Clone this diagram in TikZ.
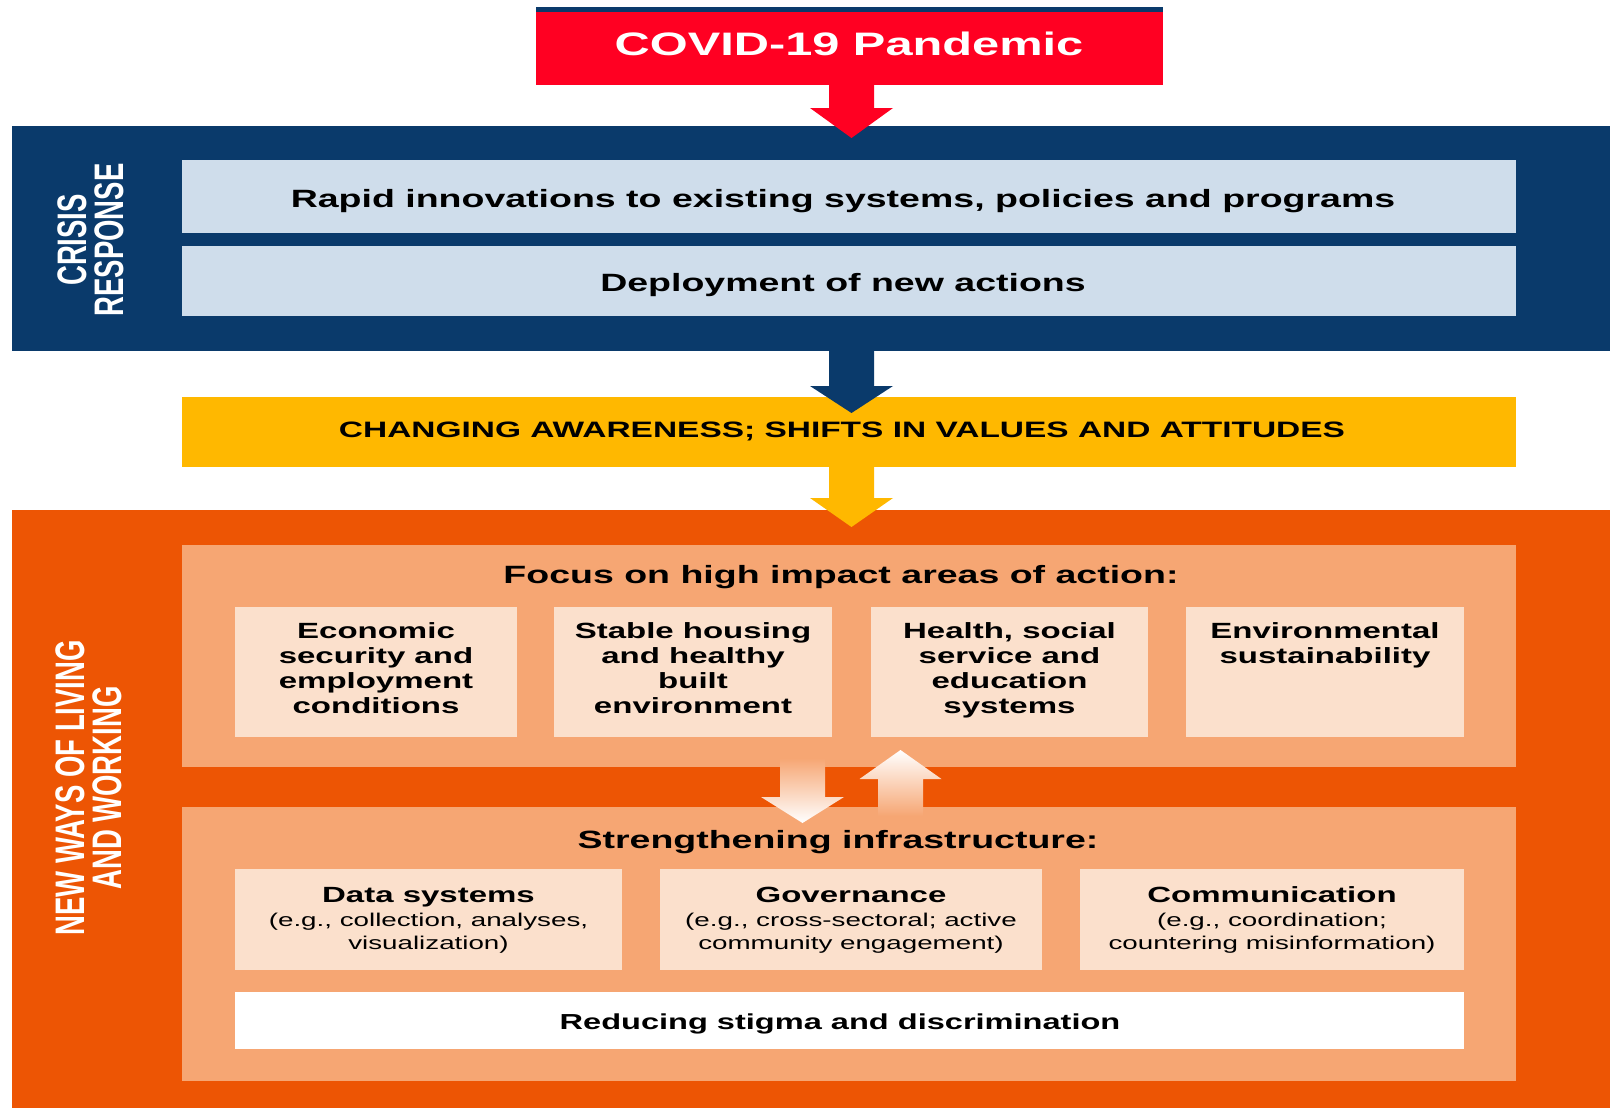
\documentclass[tikz,border=0pt]{standalone}
\usepackage{fontspec}
\setmainfont{Liberation Sans}
\newfontfamily\widefont{Liberation Sans}[FakeStretch=1.5]
\usetikzlibrary{calc}
\definecolor{navy}{HTML}{0A3A6B}
\definecolor{covidred}{HTML}{FF0022}
\definecolor{paleblue}{HTML}{CFDDEB}
\definecolor{amber}{HTML}{FFB800}
\definecolor{deeporange}{HTML}{ED5504}
\definecolor{lightorange}{HTML}{F6A673}
\definecolor{paleorange}{HTML}{FBE0CC}
\newcommand\fsz[2]{\fontsize{#1}{#2}\selectfont}
% #1 start, #2 tip, #3 path options, #4 head length
\newcommand\blkdown[4]{\path[#3] let \p1=(#1), \p2=(#2) in
  (\x2-22.5pt,\y1) -- (\x2+22.5pt,\y1) -- (\x2+22.5pt,\y2+#4) -- (\x2+41.5pt,\y2+#4)
  -- (\x2,\y2) -- (\x2-41.5pt,\y2+#4) -- (\x2-22.5pt,\y2+#4) -- cycle;}
\newcommand\blkup[4]{\path[#3] let \p1=(#1), \p2=(#2) in
  (\x2-22.5pt,\y1) -- (\x2+22.5pt,\y1) -- (\x2+22.5pt,\y2-#4) -- (\x2+41pt,\y2-#4)
  -- (\x2,\y2) -- (\x2-41pt,\y2-#4) -- (\x2-22.5pt,\y2-#4) -- cycle;}
\begin{document}
\begin{tikzpicture}[x=1pt,y=-1pt,
  box/.style={draw=none, inner sep=0pt, outer sep=0pt, anchor=north west},
  lbl/.style={inner sep=0pt, outer sep=0pt, text=black, align=center},
  headfont/.style={font=\widefont\bfseries\fsz{25}{30}},
  itemfont/.style={font=\widefont\bfseries\fsz{22}{25}},
  subfont/.style={font=\widefont\fsz{18.5}{22.5}},
  sidefont/.style={font=\bfseries\fsz{27.5}{24.7}, text=white}]
\useasboundingbox (0,0) rectangle (1610,1108);
\fill[white] (0,0) rectangle (1610,1108);

% top
\fill[navy] (536,7) rectangle (1163,12);
\node[box, fill=covidred, minimum width=627pt, minimum height=73pt] (covid) at (536,12) {};
\node[lbl, anchor=base, text=white, font=\widefont\bfseries\fsz{32.5}{36}] (covidtext) at (849,56) {COVID-19 Pandemic};

% crisis response
\node[box, fill=navy, minimum width=1598pt, minimum height=225pt] (crisis) at (12,126) {};
\node[box, fill=paleblue, minimum width=1334pt, minimum height=73pt] (rapid) at (182,160) {};
\node[box, fill=paleblue, minimum width=1334pt, minimum height=70pt] (deploy) at (182,246) {};
\node[lbl, anchor=base, headfont] (rapidtext) at (843,207) {Rapid innovations to existing systems, policies and programs};
\node[lbl, anchor=base, headfont] (deploytext) at (843,291) {Deployment of new actions};
\begin{scope}[shift={(90.5,240)}, xscale=1.5]
  \node[lbl, sidefont, rotate=90, transform shape] (crisislabel) at (0,0) {CRISIS\\RESPONSE};
\end{scope}

% awareness
\node[box, fill=amber, minimum width=1334pt, minimum height=70pt] (aware) at (182,397) {};
\node[lbl, anchor=base, font=\widefont\bfseries\fsz{22.3}{26}] (awaretext) at (842,437) {CHANGING AWARENESS; SHIFTS IN VALUES AND ATTITUDES};

% new ways
\node[box, fill=deeporange, minimum width=1598pt, minimum height=598pt] (newways) at (12,510) {};
\begin{scope}[shift={(88.5,788)}, xscale=1.5]
  \node[lbl, sidefont, rotate=90, transform shape] (newwayslabel) at (0,0) {NEW WAYS OF LIVING\\AND WORKING};
\end{scope}

\node[box, fill=lightorange, minimum width=1334pt, minimum height=222pt] (focus) at (182,545) {};
\node[lbl, anchor=base, headfont] (focustext) at (841,583) {Focus on high impact areas of action:};
\node[box, fill=paleorange, minimum width=282pt, minimum height=130pt] (econ) at (235,607) {};
\node[box, fill=paleorange, minimum width=278pt, minimum height=130pt] (housing) at (554,607) {};
\node[box, fill=paleorange, minimum width=277pt, minimum height=130pt] (health) at (871,607) {};
\node[box, fill=paleorange, minimum width=278pt, minimum height=130pt] (env) at (1186,607) {};
\node[lbl, anchor=north, itemfont] (econtext) at (econ.center |- 0,623) {Economic\\security and\\employment\\conditions};
\node[lbl, anchor=north, itemfont] (housingtext) at (housing.center |- 0,623) {Stable housing\\and healthy\\built\\environment};
\node[lbl, anchor=north, itemfont] (healthtext) at (health.center |- 0,623) {Health, social\\service and\\education\\systems};
\node[lbl, anchor=north, itemfont] (envtext) at (env.center |- 0,623) {Environmental\\sustainability};

\node[box, fill=lightorange, minimum width=1334pt, minimum height=274pt] (infra) at (182,807) {};
\node[lbl, anchor=base, headfont] (infratext) at (838,848) {Strengthening infrastructure:};
\node[box, fill=paleorange, minimum width=387pt, minimum height=101pt] (data) at (235,869) {};
\node[box, fill=paleorange, minimum width=382pt, minimum height=101pt] (gov) at (660,869) {};
\node[box, fill=paleorange, minimum width=384pt, minimum height=101pt] (comm) at (1080,869) {};
\node[lbl, anchor=base, itemfont] (datatitle) at (data.center |- 0,902) {Data systems};
\node[lbl, anchor=north, subfont] (datasub) at (data.center |- 0,913.5) {(e.g., collection, analyses,\\visualization)};
\node[lbl, anchor=base, itemfont] (govtitle) at (gov.center |- 0,902) {Governance};
\node[lbl, anchor=north, subfont] (govsub) at (gov.center |- 0,913.5) {(e.g., cross-sectoral; active\\community engagement)};
\node[lbl, anchor=base, itemfont] (commtitle) at (comm.center |- 0,902) {Communication};
\node[lbl, anchor=north, subfont] (commsub) at (comm.center |- 0,913.5) {(e.g., coordination;\\countering misinformation)};
\node[box, fill=white, minimum width=1229pt, minimum height=57pt] (stigma) at (235,992) {};
\node[lbl, anchor=base, font=\widefont\bfseries\fsz{21.7}{25}] (stigmatext) at (840,1029) {Reducing stigma and discrimination};

% arrows
\coordinate (tipA) at (851.5,138);
\coordinate (tipB) at (851.5,413);
\coordinate (tipC) at (851.5,527);
\blkdown{covid.south}{tipA}{fill=covidred}{30pt}
\blkdown{crisis.south}{tipB}{fill=navy}{27pt}
\blkdown{aware.south}{tipC}{fill=amber}{29pt}
\coordinate (downstart) at (802.5,758);
\coordinate (downtip) at (802.5,823);
\coordinate (upstart) at (900.5,816);
\coordinate (uptip) at (900.5,750);
\blkdown{downstart}{downtip}{shade, top color=lightorange, bottom color=white}{26pt}
\blkup{upstart}{uptip}{shade, top color=white, bottom color=lightorange}{29pt}
\end{tikzpicture}
\end{document}
